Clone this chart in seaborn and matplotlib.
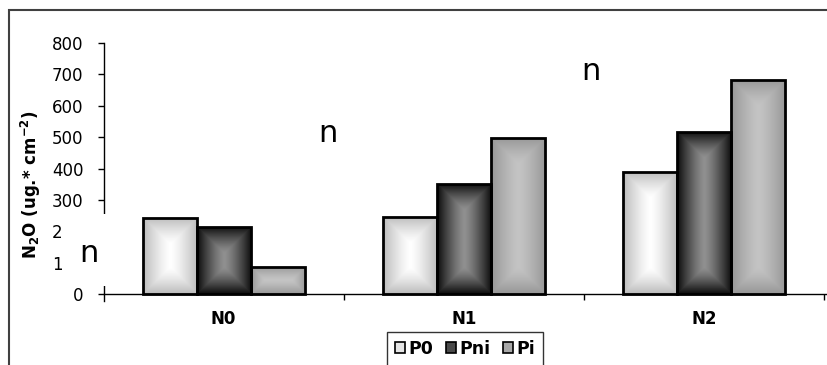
import numpy as np
import pandas as pd
import matplotlib
matplotlib.use("Agg")
import matplotlib.pyplot as plt
import seaborn as sns
from matplotlib.colors import LinearSegmentedColormap, to_hex
from matplotlib.patches import Rectangle, Patch

# ---------------- data ----------------
categories = ["N0", "N1", "N2"]
treatments = ["P0", "Pni", "Pi"]
p0_values = [243, 246, 389]
pni_values = [214, 351, 516]
pi_values = [87, 497, 681]
y_ticks = [0, 100, 200, 300, 400, 500, 600, 700, 800]
annotations = ["n", "n", "n"]

df = pd.DataFrame({
    "N": categories * 3,
    "P": [t for t in treatments for _ in categories],
    "value": p0_values + pni_values + pi_values,
})

# ---------------- style ----------------
sns.set_style("white")
plt.rcParams["font.family"] = ["DejaVu Sans"]
plt.rcParams["mathtext.default"] = "bf"
plt.rcParams["text.color"] = "black"
plt.rcParams["axes.labelcolor"] = "black"
plt.rcParams["xtick.color"] = "black"
plt.rcParams["ytick.color"] = "black"

W, H = 827, 365
fig = plt.figure(figsize=(W / 100, H / 100), dpi=100)

def fx(px):
    return px / W

def fy(py):
    return 1 - py / H

y0_px, y800_px = 294.3, 42.7
ppu = (y0_px - y800_px) / 800.0
ymin = -20
bottom_px = y0_px + (-ymin) * ppu
ax_left, ax_right = 103.5, 827
ax = fig.add_axes([fx(ax_left), fy(bottom_px), fx(ax_right - ax_left), (bottom_px - y800_px) / H])

face = {"P0": "#e6e6e6", "Pni": "#4a4a4a", "Pi": "#a8a8a8"}
sns.barplot(data=df, x="N", y="value", hue="P", order=categories, hue_order=treatments,
            palette=face, width=0.675, gap=0, edgecolor="black", linewidth=2.0,
            legend=False, ax=ax, zorder=3)

ax.set_ylim(ymin, 800)
ax.set_xlim(-0.5, 2.5 + 3 / 240)
ax.set_yticks(y_ticks)
ax.set_yticklabels([str(v) for v in y_ticks])
ax.set_xlabel("")
ax.set_ylabel(r"N$_2$O (ug.* cm$^{-2}$)", fontsize=12, fontweight="bold", color="black")
ax.yaxis.set_label_coords(-(103.5 - 43) / (827 - 103.5), (bottom_px - 185) / (bottom_px - y800_px))

for s in ["top", "right"]:
    ax.spines[s].set_visible(False)
for s in ["left", "bottom"]:
    ax.spines[s].set_color("black")
    ax.spines[s].set_linewidth(1.0)
ax.spines["bottom"].set_position(("data", 0))

ax.tick_params(axis="y", direction="out", length=4.5, width=1.0, pad=10,
               labelsize=12, colors="black", left=True)
ax.tick_params(axis="x", which="major", length=0, pad=11, labelsize=12, colors="black")
for lab in ax.get_xticklabels():
    lab.set_fontweight("bold")
ax.set_xticks([0.5, 1.5, 2.5], minor=True)
ax.tick_params(axis="x", which="minor", direction="out", length=4.5, width=1.0, bottom=True)

# ---------------- gradient fills ----------------
grad = {
    "P0": ("#ffffff", "#bababa"),
    "Pni": ("#909090", "#0a0a0a"),
    "Pi": ("#c4c4c4", "#969696"),
}
face_lookup = {to_hex(c): k for k, c in face.items()}

for patch in list(ax.patches):
    key = face_lookup.get(to_hex(patch.get_facecolor()))
    if key is None:
        continue
    x0 = patch.get_x()
    w = patch.get_width()
    h = patch.get_height()
    wpx = w * 240.2
    hpx = abs(h) * ppu
    nx = max(int(round(wpx)), 2)
    ny = max(int(round(hpx)), 2)
    xs = (np.arange(nx) + 0.5) * wpx / nx
    ys = (np.arange(ny) + 0.5) * hpx / ny
    X, Y = np.meshgrid(xs, ys)
    d = np.minimum(np.minimum(X, wpx - X), np.minimum(Y, hpx - Y))
    m = min(wpx, hpx) / 2
    t = np.clip(1 - d / m, 0, 1) ** 1.3
    cmap = LinearSegmentedColormap.from_list(key, [grad[key][0], grad[key][1]])
    im = ax.imshow(t, cmap=cmap, vmin=0, vmax=1, extent=(x0, x0 + w, 0, h),
                   aspect="auto", interpolation="bilinear", origin="lower", zorder=2.5)
    im.set_clip_path(patch)
    patch.set_facecolor("none")

ax.set_xlim(-0.5, 2.5 + 3 / 240)
ax.set_ylim(ymin, 800)

# ---------------- legend ----------------
handles = [Patch(facecolor=face[t], edgecolor="black", linewidth=1.2, label=t) for t in treatments]
leg = fig.legend(handles=handles, loc="upper center", bbox_to_anchor=(fx(465), fy(332)),
                 ncol=3, frameon=True, fancybox=False, edgecolor="black",
                 prop={"weight": "bold", "size": 12.5}, handlelength=0.55, handleheight=0.55,
                 handletextpad=0.2, columnspacing=0.75, borderpad=0.45, borderaxespad=0)
leg.get_frame().set_linewidth(1.0)
for tx in leg.get_texts():
    tx.set_color("black")

# ---------------- outer frame ----------------
fig.patches.append(Rectangle((fx(9), -0.1), 1.2, fy(10) + 0.1, transform=fig.transFigure,
                             fill=False, edgecolor="#404040", linewidth=1.5, zorder=1))

# white box covering part of axis, with annotation
fig.patches.append(Rectangle((fx(62), fy(286)), fx(110 - 62), (286 - 214) / H,
                             transform=fig.transFigure, facecolor="white",
                             edgecolor="none", zorder=5))
ann_pos = [(89, 262), (328, 142), (591, 80)]
for txt, (px, py) in zip(annotations, ann_pos):
    fig.text(fx(px), fy(py), txt, ha="center", va="baseline", fontsize=22,
             color="black", zorder=6)

fig.savefig("out.png", dpi=100)
